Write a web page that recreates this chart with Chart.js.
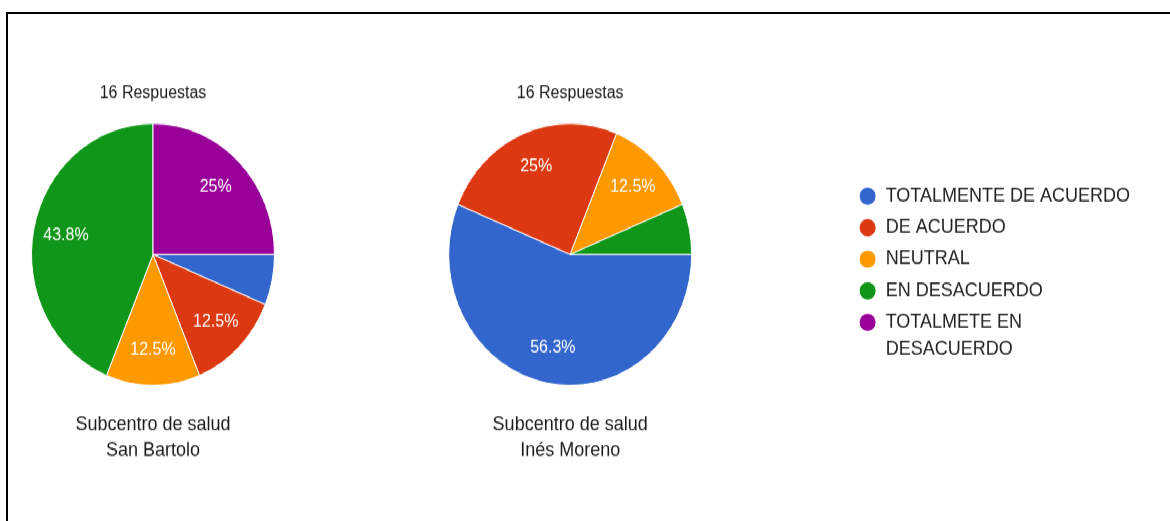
<!DOCTYPE html>
<html>
<head>
<meta charset="utf-8">
<script src="https://cdn.jsdelivr.net/npm/chart.js@4/dist/chart.umd.min.js"></script>
<style>
  html, body { margin: 0; padding: 0; width: 1170px; height: 521px; overflow: hidden; background: #fff; }
  #frame { position: absolute; left: 6px; top: 12px; right: -20px; bottom: -20px;
           border-left: 2px solid #000; border-top: 2px solid #000; }
  #stage { position: absolute; left: 0; top: 0; width: 1170px; height: 512px;
           transform: scaleY(1.078); transform-origin: 0 0; }
  #stage canvas { position: absolute; top: 0; }
</style>
</head>
<body>
<div id="frame"></div>
<div id="stage">
  <canvas id="left" width="300" height="512" style="left:3px"></canvas>
  <canvas id="right" width="847" height="512" style="left:293px"></canvas>
</div>
<script>
// ---- data ----
const categories = ['TOTALMENTE DE ACUERDO', 'DE ACUERDO', 'NEUTRAL', 'EN DESACUERDO', ['TOTALMETE EN', 'DESACUERDO']];
const sanBartoloValues = [1, 2, 2, 7, 4];
const inesMorenoValues = [9, 4, 2, 1, 0];
const responseTitle = '16 Respuestas';
const sanBartoloCaption = ['Subcentro de salud', 'San Bartolo'];
const inesMorenoCaption = ['Subcentro de salud', 'Inés Moreno'];

// ---- styles ----
const sliceColors = ['#3366cc', '#dc3912', '#ff9900', '#109618', '#990099'];
const baseFont = '"Liberation Sans", Arial, sans-serif';

function fmtPct(v) {
  const r = Math.round(v * 10) / 10;
  return (r % 1 === 0 ? r.toFixed(0) : r.toFixed(1)) + '%';
}

const pctLabels = {
  id: 'pctLabels',
  afterDatasetsDraw(chart) {
    const ctx = chart.ctx;
    const ds = chart.data.datasets[0];
    const total = ds.data.reduce((a, b) => a + b, 0);
    const meta = chart.getDatasetMeta(0);
    ctx.save();
    ctx.fillStyle = '#ffffff';
    ctx.font = '16px ' + baseFont;
    ctx.textAlign = 'center';
    ctx.textBaseline = 'middle';
    meta.data.forEach((arc, i) => {
      const v = ds.data[i];
      if (!total || v / total < 0.1) return;
      const p = arc.getProps(['x', 'y', 'startAngle', 'endAngle', 'outerRadius'], true);
      const mid = (p.startAngle + p.endAngle) / 2;
      const r = p.outerRadius * 0.73;
      ctx.fillText(fmtPct(v / total * 100), p.x + Math.cos(mid) * r, p.y + Math.sin(mid) * r);
    });
    ctx.restore();
  }
};

function makeChart(id, values, caption, withLegend) {
  return new Chart(document.getElementById(id), {
    type: 'pie',
    data: {
      labels: categories,
      datasets: [{
        data: values,
        backgroundColor: sliceColors,
        borderColor: '#ffffff',
        borderWidth: 1
      }]
    },
    options: {
      responsive: false,
      animation: false,
      rotation: 90,
      radius: 121.5,
      layout: { padding: 0 },
      plugins: {
        tooltip: { enabled: false },
        title: {
          display: true,
          text: responseTitle,
          fullSize: !withLegend,
          color: '#1a1a1a',
          font: { family: baseFont, size: 16, weight: 'normal', lineHeight: 1.2 },
          padding: { top: 77.4, bottom: 17.0 }
        },
        subtitle: {
          display: true,
          position: 'bottom',
          text: caption,
          fullSize: !withLegend,
          color: '#1a1a1a',
          font: { family: baseFont, size: 18, weight: 'normal', lineHeight: 1.378 },
          padding: { top: 22.7, bottom: 81.1 }
        },
        legend: {
          display: withLegend,
          position: 'right',
          align: 'center',
          labels: {
            usePointStyle: true,
            pointStyle: 'circle',
            boxWidth: 18,
            boxHeight: 12,
            padding: 11.3,
            color: '#222',
            font: { family: baseFont, size: 18, lineHeight: 1.36 }
          }
        }
      }
    },
    plugins: [pctLabels]
  });
}

makeChart('left', sanBartoloValues, sanBartoloCaption, false);
makeChart('right', inesMorenoValues, inesMorenoCaption, true);
</script>
</body>
</html>
